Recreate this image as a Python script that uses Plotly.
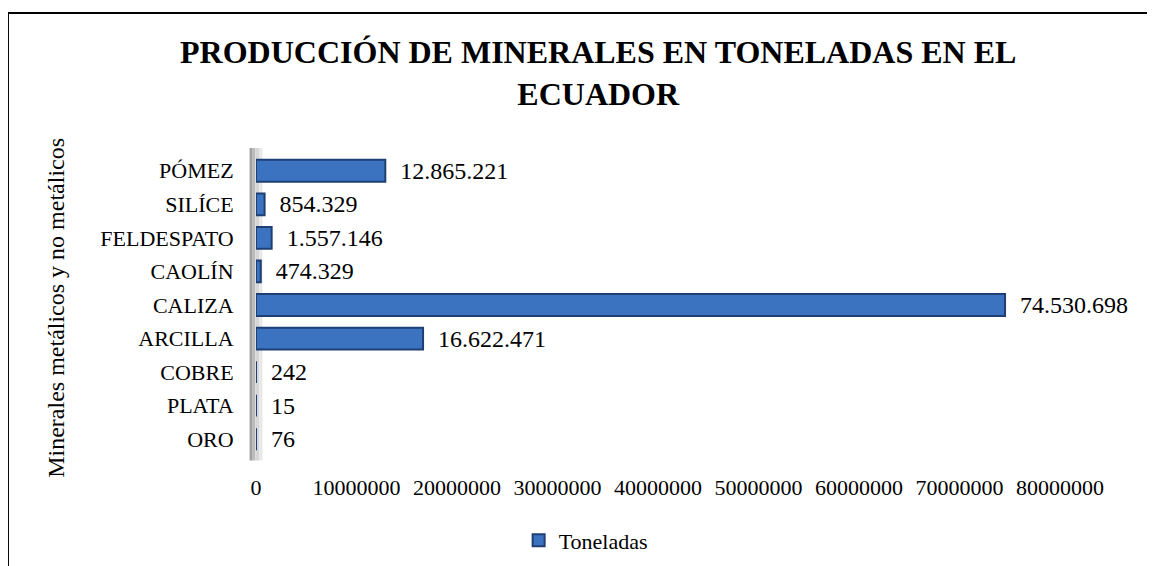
import plotly.graph_objects as go

# datos (de abajo hacia arriba, como los dibuja plotly)
minerales = ["ORO", "PLATA", "COBRE", "ARCILLA", "CALIZA", "CAOLÍN", "FELDESPATO", "SILÍCE", "PÓMEZ"]
toneladas = [76, 15, 242, 16622471, 74530698, 474329, 1557146, 854329, 12865221]
ticks_x = [0, 10000000, 20000000, 30000000, 40000000, 50000000, 60000000, 70000000, 80000000]

FUENTE = "Liberation Serif"

fig = go.Figure()
fig.add_trace(go.Bar(
    x=toneladas,
    y=minerales,
    orientation="h",
    name="Toneladas",
    marker=dict(color="#3b73c0", line=dict(color="#1f3f74", width=2)),
    texttemplate="\u00a0\u00a0%{x:,}",
    textposition="outside",
    constraintext="none",
    cliponaxis=False,
    textfont=dict(family=FUENTE, size=24, color="black"),
))

# pared gris del efecto 3D (decorativa)
pared = [("#a0a0a0", -0.008, -0.005), ("#bcbcbc", -0.005, -0.001), ("#d6d6d6", -0.001, 0.004), ("#e8e8e8", 0.004, 0.008)]
for color, x0, x1 in pared:
    fig.add_shape(type="rect", xref="paper", yref="paper", x0=x0, x1=x1, y0=-0.015, y1=1.02,
                  fillcolor=color, line=dict(width=0), layer="below")

# marco del gráfico (arriba e izquierda)
fig.add_shape(type="line", xref="paper", yref="paper", x0=-0.3085, x1=1.13, y0=1.467, y1=1.467,
              line=dict(color="black", width=2))
fig.add_shape(type="line", xref="paper", yref="paper", x0=-0.3085, x1=-0.3085, y0=1.467, y1=-0.45,
              line=dict(color="black", width=2))

fig.add_annotation(
    text="Minerales metálicos y no metálicos",
    xref="paper", yref="paper", x=-0.249, y=0.49,
    xanchor="center", yanchor="middle",
    textangle=-90, showarrow=False,
    font=dict(family=FUENTE, size=24, color="black"),
)

fig.update_layout(
    width=1155, height=566,
    margin=dict(l=248, r=103, t=146, b=110),
    paper_bgcolor="white", plot_bgcolor="white",
    separators=",.",
    bargap=0.35,
    font=dict(family=FUENTE, color="black"),
    title=dict(
        text="<b>PRODUCCIÓN DE MINERALES EN TONELADAS EN EL<br>ECUADOR</b>",
        x=0.511, xanchor="center", xref="container",
        y=0.903, yanchor="middle", yref="container",
        font=dict(family=FUENTE, size=32, color="black"),
    ),
    xaxis=dict(
        range=[0, 80000000], tickvals=ticks_x, tickformat="d",
        showgrid=False, zeroline=False, showline=False,
        ticks="outside", ticklen=12, tickcolor="rgba(0,0,0,0)",
        tickfont=dict(family=FUENTE, size=22, color="black"),
    ),
    yaxis=dict(
        showgrid=False, zeroline=False, showline=False,
        ticks="outside", ticklen=17, tickcolor="rgba(0,0,0,0)",
        tickfont=dict(family=FUENTE, size=22, color="black"),
    ),
    showlegend=True,
    legend=dict(
        orientation="h", x=0.41, xanchor="center", y=-0.28, yanchor="middle",
        font=dict(family=FUENTE, size=22, color="black"),
        itemwidth=30,
    ),
)

fig.write_html("out.html")
